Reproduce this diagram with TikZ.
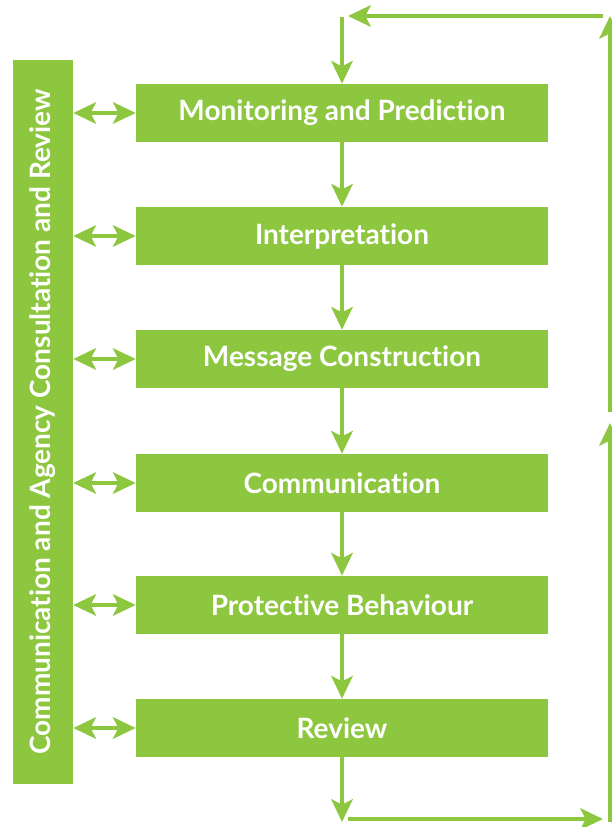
\documentclass[tikz,border=0pt]{standalone}
\usepackage{fontspec}
\setmainfont{Lato}[Ligatures=NoCommon]
\usepackage{tikz}
\usetikzlibrary{arrows.meta}
\definecolor{leaf}{RGB}{141,198,63}
\tikzset{stage/.style={fill=leaf,draw=none,text=white,inner sep=0pt,
   minimum width=309pt,minimum height=43.5pt,
   font=\fontsize{21}{24}\selectfont\bfseries},
 sidebar/.style={stage,rotate=90,minimum width=543pt,minimum height=45pt},
 flow/.style={draw=leaf,line width=3pt,-{Stealth[length=17pt,width=16pt,inset=4pt]}},
 both/.style={flow,{Stealth[length=17pt,width=16pt,inset=4pt]}-{Stealth[length=17pt,width=16pt,inset=4pt]}},
 }

\begin{document}
\begin{tikzpicture}[x=0.75pt,y=-0.75pt]
        \useasboundingbox (0,0) rectangle (611,827);
        % the six stages
        \node[stage] (monitor) at (342,113) {Monitoring and Prediction};
        \node[stage] (interp) at (342,236) {Interpretation};
        \node[stage] (message) at (342,359) {Message Construction};
        \node[stage] (commun) at (342,483) {Communication};
        \node[stage] (protect) at (342,605) {Protective Behaviour};
        \node[stage] (review) at (342,728) {Review};
        \node[sidebar] (consult) at (43,422) {Communication and Agency Consultation and Review};
        % feedback loop
        \coordinate (topstart) at (342,17);
        \coordinate (topend) at (348,16);
        \coordinate (topright) at (603,16);
        \coordinate (corner) at (610,16);
        \coordinate (upper) at (610,412);
        \coordinate (lower) at (610,423);
        \coordinate (botright) at (610,822);
        \coordinate (botend) at (342,822);
        \coordinate (loopstart) at (348,819);
        \coordinate (loopend) at (603,819);
        \draw[flow] (topstart) -- (monitor);
        \draw[flow] (monitor) -- (interp);
        \draw[flow] (interp) -- (message);
        \draw[flow] (message) -- (commun);
        \draw[flow] (commun) -- (protect);
        \draw[flow] (protect) -- (review);
        \draw[flow] (review) -- (botend);
        \draw[flow] (loopstart) -- (loopend);
        \draw[flow] (botright) -- (lower);
        \draw[flow] (upper) -- (corner);
        \draw[flow] (topright) -- (topend);
        \foreach \s in {monitor,interp,message,commun,protect,review}
            \draw[both] (consult.south |- \s.west) -- (\s.west);
    \end{tikzpicture}
\end{document}
